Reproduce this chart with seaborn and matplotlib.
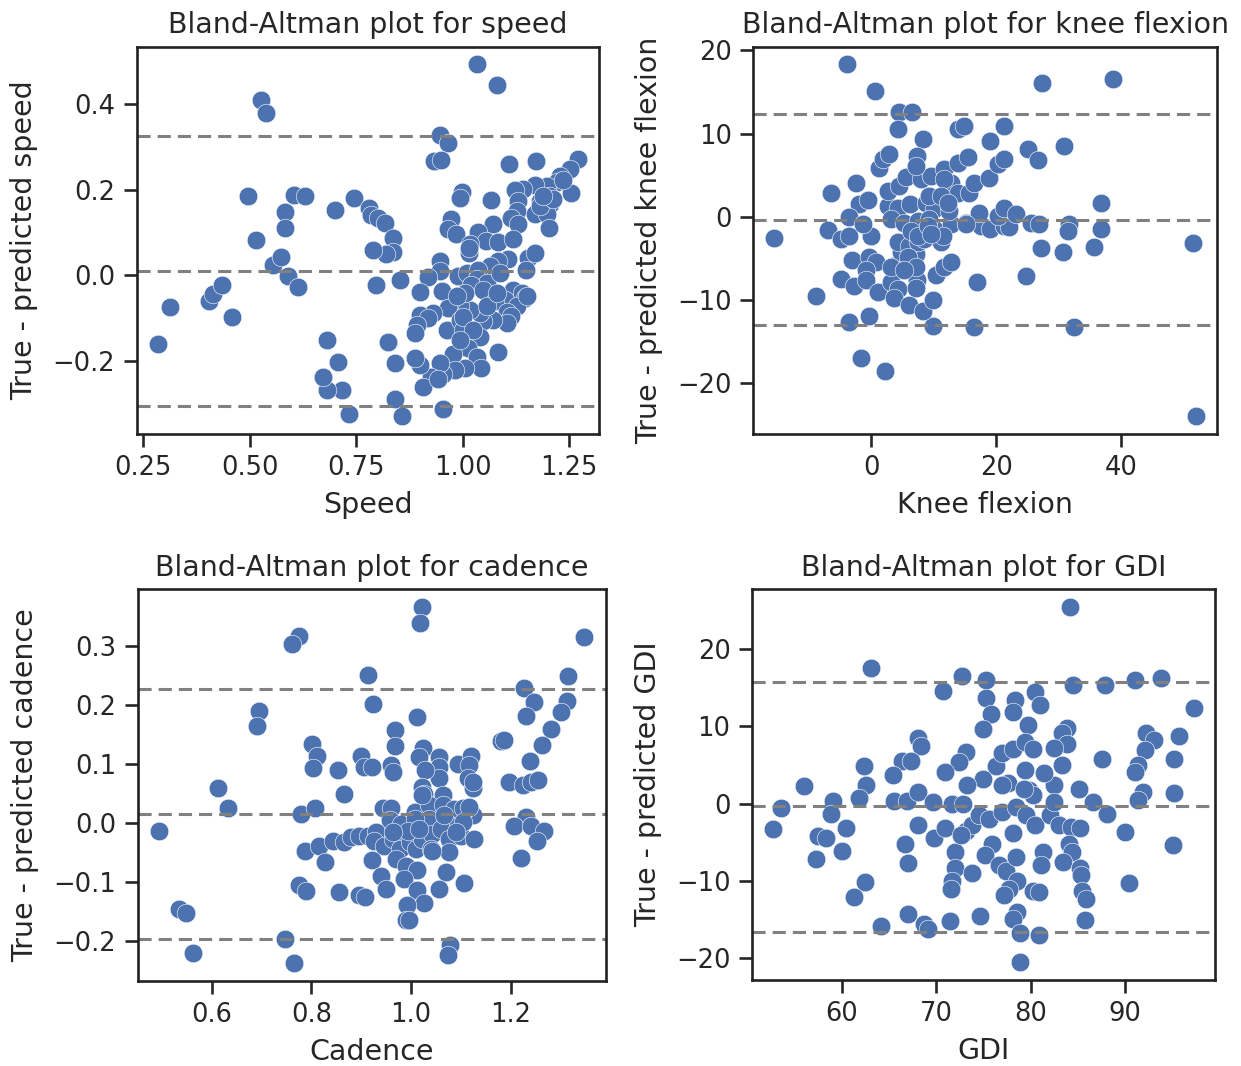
import matplotlib
matplotlib.use("Agg")
import matplotlib.pyplot as plt
import seaborn as sns
from matplotlib.ticker import MultipleLocator

# values
speed_x = [1.035, 1.080, 0.526, 0.538, 0.947, 0.967, 0.933, 0.949, 1.109, 1.172, 1.272, 1.252, 1.229, 1.221, 1.198,
           1.170, 1.143, 1.123, 1.254, 1.205, 1.182, 1.205, 1.131, 1.067, 0.999, 0.994, 1.127, 1.115, 1.170, 1.198,
           1.202, 1.131, 1.072, 0.972, 0.966, 0.985, 1.037, 1.055, 1.084, 1.118, 1.017, 1.015, 1.154, 1.170, 1.149,
           1.107, 1.084, 1.064, 0.947, 0.947, 0.920, 0.990, 1.010, 1.037, 1.033, 1.057, 1.088, 1.021, 1.049, 1.119,
           1.139, 1.147, 1.100, 1.076, 1.128, 1.105, 1.113, 1.105, 1.072, 1.049, 1.041, 1.017, 0.994, 0.971, 0.951,
           0.966, 0.900, 0.853, 0.798, 0.931, 0.900, 0.920, 0.892, 0.888, 0.963, 0.994, 1.002, 1.017, 1.041, 1.013,
           1.033, 1.043, 1.006, 1.084, 0.978, 0.982, 0.955, 0.947, 0.927, 0.900, 0.888, 0.908, 0.943, 0.826, 0.841,
           0.841, 0.857, 0.955, 0.734, 0.718, 0.681, 0.673, 0.707, 0.683, 0.284, 0.313, 0.405, 0.414, 0.436, 0.459,
           0.497, 0.515, 0.555, 0.575, 0.591, 0.614, 0.583, 0.584, 0.605, 0.631, 0.700, 0.745, 0.781, 0.786, 0.802,
           0.818, 0.836, 0.836, 0.820, 0.790, 1.016, 1.002, 1.057, 1.080, 1.151, 1.006, 0.986, 1.025, 0.994, 1.182,
           1.213, 1.190, 1.237]
speed_diff = [0.493, 0.446, 0.409, 0.379, 0.327, 0.309, 0.267, 0.270, 0.261, 0.267, 0.271, 0.249, 0.233, 0.217, 0.209,
              0.212, 0.202, 0.200, 0.192, 0.186, 0.174, 0.166, 0.174, 0.175, 0.195, 0.181, 0.151, 0.135, 0.143, 0.143,
              0.111, 0.119, 0.119, 0.131, 0.107, 0.096, 0.101, 0.080, 0.078, 0.084, 0.072, 0.053, 0.041, 0.053, 0.013,
              0.037, 0.033, 0.021, 0.033, 0.009, -0.004, -0.002, 0.005, 0.013, -0.010, -0.018, 0.005, -0.022, -0.034,
              -0.034, -0.042, -0.053, -0.057, -0.061, -0.073, -0.085, -0.096, -0.112, -0.104, -0.108, -0.089, -0.081,
              -0.073, -0.065, -0.038, -0.077, -0.039, -0.012, -0.024, -0.089, -0.093, -0.100, -0.116, -0.136, -0.129,
              -0.104, -0.128, -0.151, -0.145, -0.171, -0.191, -0.218, -0.218, -0.179, -0.184, -0.222, -0.230, -0.206,
              -0.238, -0.210, -0.194, -0.261, -0.242, -0.157, -0.205, -0.290, -0.330, -0.314, -0.325, -0.269, -0.269,
              -0.239, -0.202, -0.151, -0.162, -0.075, -0.061, -0.045, -0.023, -0.098, 0.186, 0.082, 0.023, 0.042,
              -0.001, -0.028, 0.147, 0.111, 0.188, 0.186, 0.153, 0.180, 0.158, 0.141, 0.135, 0.123, 0.088, 0.055,
              0.049, 0.060, 0.064, -0.097, -0.073, -0.042, -0.049, -0.042, -0.049, -0.128, -0.151, 0.162, 0.178,
              0.186, 0.222]
speed_lines = [0.326, 0.009, -0.307]

knee_x = [-3.9, 0.6, 4.5, 6.5, 4.3, 8.3, 13.8, 14.9, 21.2, 19.0, 27.3, 38.6, 25.1, 26.6, 30.8, 36.7, 36.7, 35.6, 31.7,
          31.4, 30.7, 27.2, 24.7, 51.4, 52.0, 32.4, 16.4, 9.9, 16.9, -15.5, -8.9, -3.6, -0.3, -1.6, 2.2, -6.5, -2.5,
          -1.9, -0.5, -3.5, -7.0, -4.8, -3.5, -0.1, -1.3, -3.1, -0.3, 0.7, -0.9, -4.8, -2.7, -0.8, 1.0, 3.2, 4.3, 3.7,
          6.1, 8.2, 9.8, 7.3, 7.2, 10.4, 11.7, 12.8, 4.0, 5.3, 6.9, 7.2, 4.8, 4.3, 6.1, 7.5, 8.5, 11.2, 11.5, 10.1,
          12.8, 15.2, 17.5, 19.0, 21.3, 22.1, 17.3, 20.3, 21.2, 23.2, 25.6, 26.9, 2.7, 4.3, 6.2, 8.8, 10.1, 12.5, 3.2,
          5.3, 7.5, 9.3, 2.7, 4.5, 5.6, 8.0, 9.6, 11.6, 12.8, 13.9, 15.7, 16.5, 18.9, 13.9, 15.5, 20.3, 21.2, 7.3, 7.2,
          1.2, 1.9, 2.9, 11.7, 9.3, 11.2, 12.3, 6.4, 7.5, 9.1, 15.2, 5.9, 7.2, 3.2, 5.3, 11.5, 9.6]
knee_diff = [18.3, 15.1, 12.6, 12.6, 10.5, 9.3, 10.6, 10.9, 10.9, 9.1, 16.1, 16.5, 8.1, 6.8, 8.5, 1.6, -1.5, -3.7, -0.9,
             -1.7, -4.3, -3.8, -7.1, -3.2, -24.0, -13.3, -13.3, -13.1, -7.9, -2.6, -9.5, -12.7, -12.0, -17.0, -18.5,
             2.8, 4.0, 1.5, 2.0, 0.0, -1.6, -2.7, -2.3, -2.3, -0.9, -5.2, -4.9, -5.4, -6.4, -7.5, -8.3, -7.6, -9.1,
             -7.8, -8.7, -9.8, -10.6, -11.3, -10.0, -7.6, -8.6, -7.0, -6.0, -5.5, -5.8, -5.6, -5.5, -4.5, -4.3, -3.1,
             -3.5, -3.1, -2.7, -3.1, -1.9, -1.5, -0.9, -0.8, -1.1, -1.5, -1.1, -1.3, 0.5, 0.1, 1.1, 0.3, -0.8, -0.9,
             1.3, 1.1, 1.5, 1.7, 0.9, 0.7, -0.3, -0.7, -0.5, -0.3, 3.1, 3.7, 4.8, 4.5, 4.9, 5.7, 4.1, 2.9, 2.8, 4.1,
             4.6, 6.5, 7.2, 6.3, 6.9, 7.3, 6.1, 5.9, 6.9, 7.5, 4.5, 2.5, 2.5, 1.7, -1.7, -2.3, -1.1, -0.9, -4.9, -6.0,
             -6.0, -6.4, -2.3, -2.1]
knee_lines = [12.3, -0.4, -13.0]

cad_x = [1.023, 1.018, 0.775, 0.761, 1.348, 0.914, 1.316, 1.226, 1.247, 1.314, 1.301, 1.231, 1.281, 1.262, 1.239,
         1.181, 1.187, 0.924, 1.013, 0.694, 0.691, 0.967, 0.968, 1.025, 1.017, 1.056, 1.057, 1.057, 1.094, 1.120,
         1.117, 1.114, 1.124, 1.029, 1.022, 1.027, 1.064, 0.801, 0.811, 0.803, 0.853, 0.900, 0.906, 0.921, 0.960,
         0.963, 0.866, 0.613, 0.632, 0.494, 0.779, 0.807, 0.943, 0.960, 1.007, 0.957, 0.980, 1.037, 1.064, 1.087,
         1.104, 1.124, 1.117, 1.037, 1.070, 1.231, 1.207, 1.241, 1.268, 1.253, 1.221, 0.788, 0.816, 0.828, 0.843,
         0.866, 0.880, 0.896, 0.913, 0.930, 0.926, 0.946, 0.963, 0.977, 0.997, 1.010, 1.023, 1.043, 1.040, 1.060,
         1.077, 1.100, 1.127, 1.077, 0.922, 0.970, 0.990, 1.013, 1.070, 1.107, 0.940, 0.949, 0.985, 1.012, 1.027,
         1.056, 1.042, 0.775, 0.789, 0.855, 0.896, 0.908, 0.992, 0.990, 0.995, 0.535, 0.548, 0.563, 0.746, 0.765,
         1.079, 1.075, 1.124, 1.197, 1.224, 1.241, 1.254, 1.007, 0.993, 1.017, 1.067, 1.104, 1.090, 0.963, 1.023]
cad_diff = [0.366, 0.340, 0.317, 0.303, 0.315, 0.251, 0.249, 0.229, 0.205, 0.207, 0.189, 0.182, 0.160, 0.132, 0.106,
            0.140, 0.141, 0.202, 0.180, 0.190, 0.164, 0.158, 0.131, 0.127, 0.113, 0.113, 0.095, 0.076, 0.101, 0.114,
            0.098, 0.077, 0.060, 0.090, 0.061, 0.050, 0.048, 0.134, 0.114, 0.094, 0.090, 0.114, 0.095, 0.095, 0.098,
            0.086, 0.050, 0.060, 0.026, -0.014, 0.016, 0.026, 0.026, 0.026, 0.019, 0.005, -0.001, 0.030, 0.030, 0.024,
            0.026, 0.013, 0.027, 0.007, 0.002, 0.010, -0.004, -0.004, -0.013, -0.030, -0.059, -0.047, -0.038, -0.066,
            -0.030, -0.032, -0.024, -0.021, -0.021, -0.015, -0.030, -0.038, -0.027, -0.044, -0.032, -0.044, -0.027,
            -0.018, -0.044, -0.010, -0.027, -0.021, -0.027, -0.049, -0.062, -0.061, -0.072, -0.079, -0.082, -0.101,
            -0.090, -0.112, -0.094, -0.113, -0.136, -0.112, -0.047, -0.105, -0.115, -0.116, -0.122, -0.126, -0.139,
            -0.165, -0.165, -0.146, -0.153, -0.220, -0.197, -0.237, -0.206, -0.224, 0.070, 0.070, 0.064, 0.070, 0.073,
            0.007, -0.013, -0.010, 0.013, 0.002, -0.015, -0.015, 0.047]
cad_lines = [0.227, 0.015, -0.196]

gdi_x = [84.2, 63.1, 72.7, 75.3, 70.7, 84.5, 87.9, 91.1, 93.8, 97.3, 75.3, 75.8, 74.9, 78.3, 78.1, 80.5, 81.0, 79.7,
         83.9, 83.3, 83.9, 82.5, 87.6, 92.2, 93.1, 95.7, 92.1, 91.4, 91.1, 95.2, 91.9, 91.4, 95.2, 90.0, 95.1, 90.4,
         88.1, 86.6, 85.1, 83.3, 82.5, 81.4, 79.4, 79.8, 77.6, 77.0, 76.3, 77.0, 78.1, 79.4, 80.2, 73.1, 72.4, 74.9,
         73.2, 70.9, 68.1, 68.4, 66.4, 67.3, 65.4, 62.3, 62.5, 61.8, 59.0, 56.0, 53.5, 52.7, 57.5, 58.3, 58.8, 60.4,
         57.3, 60.0, 62.4, 61.3, 64.1, 67.0, 68.7, 69.1, 71.4, 74.6, 65.5, 66.9, 68.1, 69.6, 71.7, 72.8, 68.1, 66.7,
         67.0, 69.8, 70.9, 72.0, 72.0, 71.7, 71.6, 73.8, 73.1, 73.8, 72.6, 74.5, 75.6, 75.9, 75.2, 76.6, 77.4, 78.4,
         78.1, 77.0, 78.4, 79.5, 80.5, 82.1, 83.0, 84.3, 84.1, 84.4, 83.4, 81.3, 81.1, 78.6, 77.7, 77.2, 80.2, 80.9,
         85.2, 85.3, 85.4, 85.9, 85.8, 78.6, 78.1, 78.9, 80.9, 78.9, 80.2, 82.5, 79.3, 85.2]
gdi_diff = [25.4, 17.5, 16.5, 16.0, 14.6, 15.3, 15.4, 16.0, 16.2, 12.3, 13.6, 11.6, 9.7, 13.4, 11.8, 14.4, 12.8, 10.2,
            9.8, 9.1, 7.7, 7.2, 5.8, 9.1, 8.2, 8.7, 6.9, 5.0, 4.1, 5.8, 1.5, 0.4, 1.4, -3.7, -5.4, -10.3, -1.3, 0.2,
            1.9, 5.0, 2.4, 3.9, 4.3, 1.7, 2.7, 2.4, 4.8, 6.5, 7.1, 7.9, 7.1, 6.7, 5.4, 3.2, 2.4, 4.1, 8.5, 7.4, 5.5,
            5.5, 3.7, 4.9, 2.4, 0.7, 0.3, 2.3, -0.6, -3.3, -4.2, -4.5, -1.4, -3.2, -7.2, -6.1, -10.2, -12.1, -15.8,
            -14.3, -15.6, -16.3, -15.2, -14.5, 0.3, 0.3, 1.5, 0.2, -0.1, 0.0, -2.8, -5.2, -7.7, -4.4, -3.2, -6.3,
            -8.4, -10.0, -11.1, -9.0, -3.5, -2.8, -4.1, -1.5, -2.0, -5.2, -6.7, -8.0, -8.7, -6.9, -3.8, -1.1, -0.4,
            -1.5, -2.8, -1.5, -2.8, -3.0, -5.2, -6.3, -7.6, -6.3, -8.0, -10.0, -11.0, -11.8, -11.3, -11.4, -8.4, -9.3,
            -11.3, -12.3, -15.1, -14.1, -14.9, -16.7, -17.0, -20.5, 1.1, 0.2, 1.9, -3.2]
gdi_lines = [15.7, -0.3, -16.6]

panels = [
    ("speed", "Speed", speed_x, speed_diff, speed_lines, 0.25, 0.2),
    ("knee flexion", "Knee flexion", knee_x, knee_diff, knee_lines, 20, 10),
    ("cadence", "Cadence", cad_x, cad_diff, cad_lines, 0.2, 0.1),
    ("GDI", "GDI", gdi_x, gdi_diff, gdi_lines, 10, 10),
]

# axes boxes in figure fractions (left, bottom, width, height)
boxes = [
    (0.110, 0.593, 0.373, 0.363),
    (0.607, 0.593, 0.374, 0.363),
    (0.111, 0.080, 0.377, 0.367),
    (0.606, 0.081, 0.373, 0.366),
]

sns.set_theme(style="ticks", context="talk")
plt.rcParams["axes.linewidth"] = 1.9
plt.rcParams["axes.edgecolor"] = "#222222"

fig = plt.figure(figsize=(12.41, 10.66), dpi=100)

for (name, xlabel, xs, ds, lines, xstep, ystep), box in zip(panels, boxes):
    ax = fig.add_axes(box)
    sns.scatterplot(x=xs, y=ds, ax=ax, s=180, color="#4C72B0", edgecolor="white", linewidth=0.4)
    for level in lines:
        ax.axhline(level, color="gray", linestyle=(0, (4.3, 2.3)), linewidth=2.2)
    ax.xaxis.set_major_locator(MultipleLocator(xstep))
    ax.yaxis.set_major_locator(MultipleLocator(ystep))
    ax.set_title(f"Bland-Altman plot for {name}", fontsize=20.5, pad=10)
    ax.set_xlabel(xlabel, fontsize=20.5, labelpad=7)
    ax.set_ylabel(f"True - predicted {name}", fontsize=20.5, labelpad=10)
    ax.tick_params(labelsize=18.5, width=1.9, length=9.5, pad=6)

fig.savefig("out.png", dpi=100)
